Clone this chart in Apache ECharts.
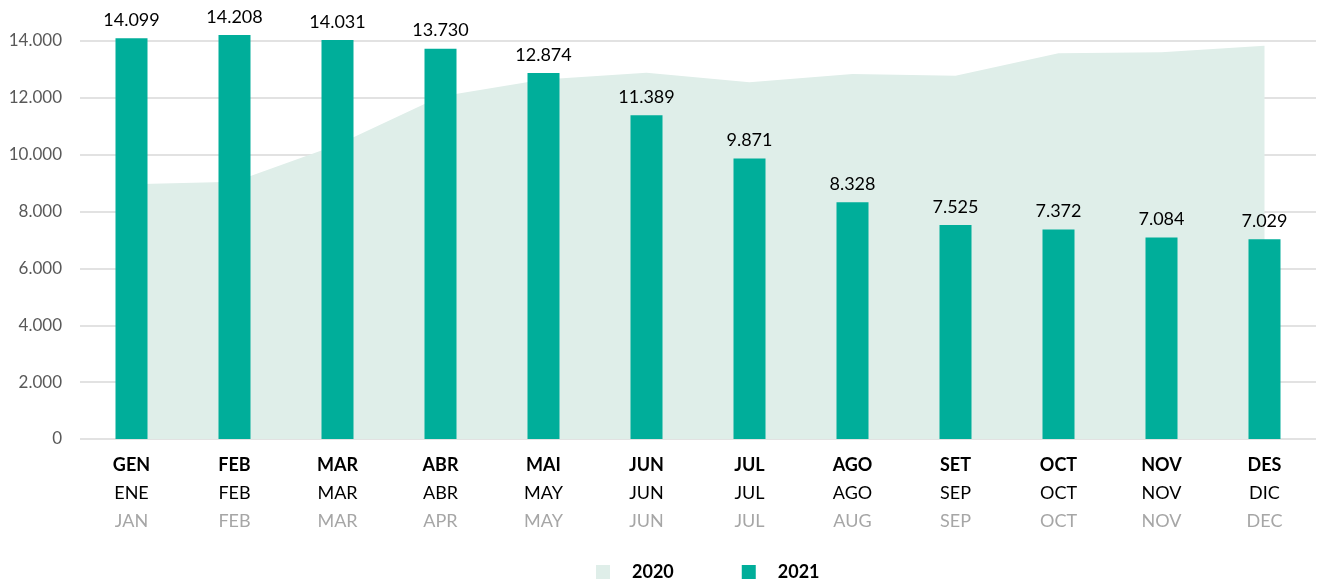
<!DOCTYPE html>
<html>
<head>
<meta charset="utf-8">
<script src="https://cdn.jsdelivr.net/npm/echarts@6/dist/echarts.min.js"></script>
<style>
html,body{margin:0;padding:0;background:#fff;}
#chart{width:1319px;height:583px;}
</style>
</head>
<body>
<div id="chart"></div>
<script>
const monthsCA = ['GEN','FEB','MAR','ABR','MAI','JUN','JUL','AGO','SET','OCT','NOV','DES'];
const monthsES = ['ENE','FEB','MAR','ABR','MAY','JUN','JUL','AGO','SEP','OCT','NOV','DIC'];
const monthsEN = ['JAN','FEB','MAR','APR','MAY','JUN','JUL','AUG','SEP','OCT','NOV','DEC'];
const values2020 = [8960, 9050, 10350, 12050, 12650, 12880, 12550, 12840, 12780, 13570, 13600, 13835];
const values2021 = [14099, 14208, 14031, 13730, 12874, 11389, 9871, 8328, 7525, 7372, 7084, 7029];
const yTicks = [0, 2000, 4000, 6000, 8000, 10000, 12000, 14000];

function fmt(v){ return String(Math.round(v)).replace(/\B(?=(\d{3})+(?!\d))/g, '.'); }

const chart = echarts.init(document.getElementById('chart'));
chart.setOption({
  animation: false,
  textStyle: { fontFamily: 'Lato, "Open Sans", sans-serif' },
  grid: { left: 80, right: 3, top: 41, bottom: 144 },
  legend: {
    top: 558,
    left: 591,
    icon: 'rect',
    itemWidth: 14,
    itemHeight: 14,
    itemGap: 68,
    data: ['2020', '2021'],
    textStyle: { fontSize: 18, fontWeight: 'bold', color: '#000', padding: [10, 0, 0, 17] }
  },
  xAxis: {
    type: 'category',
    data: monthsCA,
    axisLine: { show: false },
    axisTick: { show: false },
    axisLabel: {
      margin: 12,
      interval: 0,
      formatter: function (v, i) {
        return '{a|' + monthsCA[i] + '}\n{b|' + monthsES[i] + '}\n{c|' + monthsEN[i] + '}';
      },
      rich: {
        a: { fontSize: 18, fontWeight: 'bold', color: '#000', lineHeight: 28, fontFamily: 'Lato, sans-serif' },
        b: { fontSize: 18, color: '#000', lineHeight: 28, fontFamily: 'Lato, sans-serif' },
        c: { fontSize: 18, color: '#A6A6A6', lineHeight: 28, fontFamily: 'Lato, sans-serif' }
      }
    }
  },
  yAxis: {
    type: 'value',
    min: yTicks[0],
    max: yTicks[yTicks.length - 1],
    interval: 2000,
    axisLine: { show: false },
    axisTick: { show: false },
    axisLabel: { fontSize: 17, color: '#595959', margin: 18, formatter: fmt },
    splitLine: { lineStyle: { color: '#D9D9D9', width: 1.5 } }
  },
  series: [
    {
      name: '2020',
      type: 'line',
      data: values2020,
      symbol: 'none',
      lineStyle: { width: 0 },
      itemStyle: { color: '#DFEEE9' },
      areaStyle: { color: '#DFEEE9', opacity: 1 },
      z: 1
    },
    {
      name: '2021',
      type: 'bar',
      data: values2021,
      barWidth: 32,
      clip: false,
      itemStyle: { color: '#00AE9A' },
      label: {
        show: true,
        position: 'top',
        distance: 9,
        fontSize: 18,
        color: '#000',
        formatter: function (p) { return fmt(p.value); }
      },
      z: 3
    }
  ]
});
</script>
</body>
</html>
